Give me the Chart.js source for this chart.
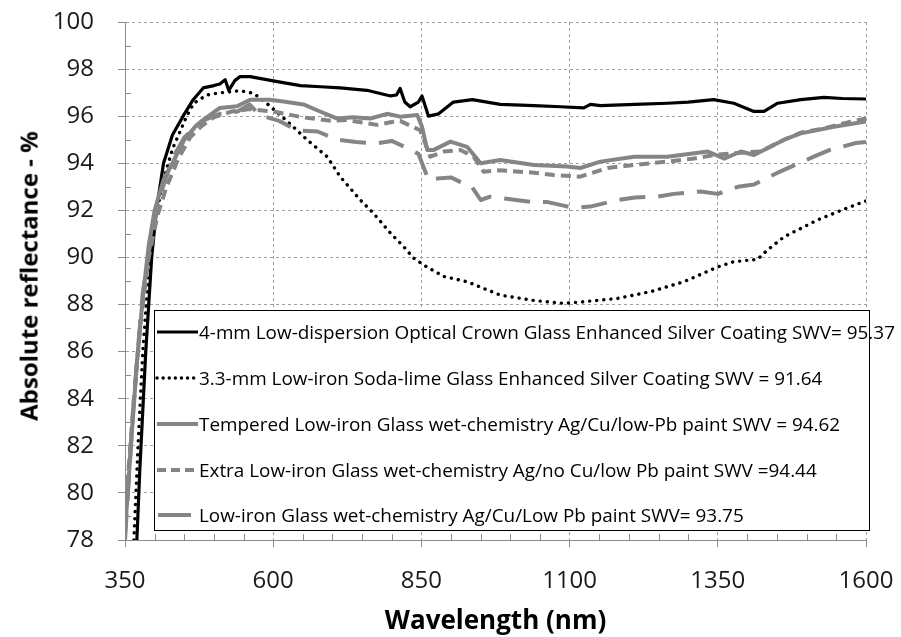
<!DOCTYPE html>
<html>
<head>
<meta charset="utf-8">
<script src="https://cdn.jsdelivr.net/npm/chart.js@4.4.1/dist/chart.umd.min.js"></script>
<style>
  html, body { margin: 0; padding: 0; background: #fff; }
  #wrap { position: relative; width: 901px; height: 637px; }
  #legend {
    position: absolute; left: 154px; top: 310px; width: 714px; height: 219px;
    background: #fff; border: 1px solid #000; box-sizing: content-box;
    font-family: "Open Sans", "Noto Sans", sans-serif; font-size: 18.9px; color: #000;
  }
  .row { position: absolute; left: 0; height: 26px; display: flex; align-items: center; white-space: nowrap; }
  .row svg { flex: none; }
  .row span { margin-left: 0; letter-spacing: 0; }
  #ytitle {
    position: absolute; left: 29px; top: 276px; white-space: nowrap;
    font-family: "Open Sans", "Noto Sans", sans-serif; font-weight: bold; font-size: 24px; line-height: 1.2; color: #000;
    transform: translate(-50%, -50%) rotate(-90deg);
  }
</style>
</head>
<body>
<div id="wrap">
  <canvas id="c" width="901" height="637"></canvas>
  <div id="ytitle"></div>
  <div id="legend"></div>
</div>
<script>
// ---------- data ----------
const xTicks = [350, 600, 850, 1100, 1350, 1600];
const yTicks = [78, 80, 82, 84, 86, 88, 90, 92, 94, 96, 98, 100];
const xTitle = "Wavelength (nm)";
const yTitle = "Absolute reflectance - %";

const seriesNames = [
  "4-mm Low-dispersion Optical Crown Glass Enhanced Silver Coating SWV= 95.37",
  "3.3-mm Low-iron Soda-lime Glass Enhanced Silver Coating SWV = 91.64",
  "Tempered Low-iron Glass wet-chemistry Ag/Cu/low-Pb paint SWV = 94.62",
  "Extra Low-iron Glass wet-chemistry Ag/no Cu/low Pb paint SWV =94.44",
  "Low-iron Glass wet-chemistry Ag/Cu/Low Pb paint SWV= 93.75"
];

const crownX = [370, 375, 381, 385, 390, 395, 403, 415, 430, 448, 465, 482, 500, 510, 519, 525, 535, 544, 561, 600, 646, 680, 713, 758, 798, 808, 814, 822, 831, 845, 851, 862, 879, 904, 936, 983, 1040, 1085, 1124, 1135, 1152, 1210, 1265, 1300, 1343, 1377, 1411, 1428, 1451, 1490, 1529, 1560, 1600];
const crownY = [78, 81, 84, 86, 88, 90, 92, 94, 95.2, 96.0, 96.7, 97.2, 97.3, 97.37, 97.55, 97.1, 97.5, 97.68, 97.68, 97.5, 97.3, 97.25, 97.2, 97.1, 96.86, 96.9, 97.18, 96.6, 96.4, 96.6, 96.86, 96.0, 96.1, 96.6, 96.7, 96.5, 96.45, 96.4, 96.35, 96.5, 96.45, 96.5, 96.55, 96.6, 96.7, 96.55, 96.2, 96.2, 96.55, 96.7, 96.8, 96.75, 96.73];

const sodaX = [365, 372, 380, 390, 400, 415, 430, 454, 466, 488, 505, 527, 544, 567, 589, 623, 657, 691, 713, 747, 769, 798, 820, 837, 859, 888, 927, 983, 1040, 1090, 1124, 1181, 1237, 1293, 1350, 1377, 1417, 1434, 1462, 1519, 1563, 1600];
const sodaY = [78, 82, 86, 89.5, 91.5, 93.3, 94.6, 96.0, 96.55, 96.9, 96.97, 97.04, 97.08, 96.97, 96.55, 95.8, 95.0, 94.28, 93.43, 92.44, 91.88, 91.03, 90.46, 89.97, 89.6, 89.19, 88.97, 88.4, 88.17, 88.05, 88.12, 88.26, 88.55, 88.97, 89.6, 89.82, 89.92, 90.32, 90.88, 91.6, 92.05, 92.4];

const temperedX = [350, 360, 370, 380, 390, 400, 415, 430, 450, 470, 482, 510, 539, 561, 595, 623, 651, 679, 708, 735, 764, 792, 814, 843, 851, 860, 870, 888, 899, 927, 950, 983, 1040, 1096, 1118, 1152, 1209, 1265, 1333, 1361, 1389, 1411, 1462, 1490, 1546, 1600];
const temperedY = [78.3, 82, 85.5, 88.3, 90.5, 92.0, 93.3, 94.0, 95.0, 95.6, 95.84, 96.35, 96.42, 96.7, 96.7, 96.6, 96.5, 96.2, 95.9, 95.95, 95.9, 96.1, 95.98, 96.05, 95.55, 94.56, 94.56, 94.78, 94.92, 94.7, 94.0, 94.14, 93.93, 93.86, 93.8, 94.07, 94.28, 94.28, 94.5, 94.2, 94.5, 94.35, 95.0, 95.27, 95.55, 95.78];

const extraX = [350, 362, 375, 390, 405, 420, 440, 460, 480, 500, 530, 560, 600, 650, 700, 724, 775, 800, 814, 848, 865, 888, 916, 938, 955, 983, 1040, 1073, 1118, 1164, 1209, 1265, 1310, 1343, 1389, 1422, 1462, 1490, 1524, 1571, 1600];
const extraY = [79, 83, 87, 90, 91.8, 93.0, 94.2, 95.1, 95.6, 95.95, 96.2, 96.3, 96.2, 95.95, 95.8, 95.84, 95.63, 95.75, 95.8, 95.4, 94.28, 94.5, 94.56, 94.28, 93.64, 93.7, 93.6, 93.5, 93.43, 93.8, 93.93, 94.07, 94.2, 94.35, 94.45, 94.5, 95.0, 95.3, 95.45, 95.75, 95.9];

const lowIronX = [350, 365, 380, 395, 410, 430, 450, 480, 510, 540, 560, 575, 590, 610, 640, 675, 708, 740, 775, 800, 826, 845, 862, 877, 900, 916, 935, 950, 966, 990, 1034, 1063, 1090, 1107, 1135, 1181, 1210, 1248, 1276, 1321, 1350, 1384, 1411, 1451, 1473, 1512, 1538, 1583, 1600];
const lowIronY = [78, 84, 88.5, 91, 92.7, 94.2, 95.1, 95.8, 96.1, 96.2, 96.5, 96.1, 95.95, 95.8, 95.4, 95.35, 95.0, 94.9, 94.85, 94.95, 94.65, 94.4, 93.3, 93.35, 93.4, 93.2, 93.0, 92.44, 92.58, 92.5, 92.36, 92.35, 92.2, 92.1, 92.16, 92.44, 92.55, 92.58, 92.7, 92.8, 92.7, 93.0, 93.1, 93.6, 93.85, 94.28, 94.56, 94.86, 94.9];

// ---------- helpers ----------
const pts = (xs, ys) => xs.map((x, i) => ({ x: x, y: ys[i] }));
const GRAY = "#858585";

const styles = [
  { color: "#000", width: 3.2, dash: [] , cap: "butt"},
  { color: "#000", width: 3.4, dash: [0.1, 7], cap: "round"},
  { color: GRAY, width: 4, dash: [], cap: "butt"},
  { color: GRAY, width: 4, dash: [10, 6], cap: "butt"},
  { color: GRAY, width: 4, dash: [26, 13], cap: "butt"}
];
const dataSets = [pts(crownX, crownY), pts(sodaX, sodaY), pts(temperedX, temperedY), pts(extraX, extraY), pts(lowIronX, lowIronY)];

// minor ticks plugin (drawn inside the plot area, like the reference)
const minorTicks = {
  id: "minorTicks",
  afterDraw(chart) {
    const { ctx, scales: { x, y } } = chart;
    ctx.save();
    ctx.strokeStyle = "#8c8c8c";
    ctx.lineWidth = 1;
    ctx.beginPath();
    for (let v = 79; v < 100; v += 2) {
      const py = Math.round(y.getPixelForValue(v)) + 0.5;
      ctx.moveTo(x.left, py); ctx.lineTo(x.left + 6, py);
    }
    for (let v = 400; v < 1600; v += 50) {
      if ((v - 350) % 250 === 0) continue;
      const px = Math.round(x.getPixelForValue(v)) + 0.5;
      ctx.moveTo(px, y.bottom); ctx.lineTo(px, y.bottom - 6);
    }
    ctx.stroke();
    ctx.restore();
  }
};

new Chart(document.getElementById("c"), {
  type: "line",
  data: {
    datasets: dataSets.map((d, i) => ({
      label: seriesNames[i],
      data: d,
      borderColor: styles[i].color,
      borderWidth: styles[i].width,
      borderDash: styles[i].dash,
      borderCapStyle: styles[i].cap,
      borderJoinStyle: "round",
      pointRadius: 0,
      tension: 0,
      fill: false
    })).reverse()
  },
  options: {
    responsive: false,
    animation: false,
    events: [],
    layout: { padding: { top: 22, right: 35, bottom: 0, left: 0 } },
    plugins: { legend: { display: false }, tooltip: { enabled: false } },
    scales: {
      x: {
        type: "linear",
        min: 350, max: 1600,
        afterFit: s => { s.height = 97; s.paddingLeft = 0; s.paddingRight = 0; },
        afterBuildTicks: s => { s.ticks = xTicks.map(v => ({ value: v })); },
        ticks: { padding: 20, color: "#1a1a1a", font: { family: "Open Sans", size: 24 }, callback: v => String(v) },
        grid: { color: "#a0a0a0", lineWidth: 1, tickLength: 7, tickColor: "#8c8c8c" },
        border: { display: true, color: "#8c8c8c", width: 1, dash: [3, 3] },
        title: { display: true, text: xTitle, color: "#000", padding: { top: 0, bottom: 0 },
                 font: { family: "Open Sans", size: 26, weight: "bold", lineHeight: 1.15 } }
      },
      y: {
        min: 78, max: 100,
        afterFit: s => { s.width = 125; s.paddingTop = 0; s.paddingBottom = 0; },
        afterBuildTicks: s => { s.ticks = yTicks.map(v => ({ value: v })); },
        ticks: { padding: 24, color: "#1a1a1a", font: { family: "Open Sans", size: 24 }, callback: v => String(v) },
        grid: { color: "#a0a0a0", lineWidth: 1, tickLength: 7, tickColor: "#8c8c8c" },
        border: { display: true, color: "#8c8c8c", width: 1, dash: [3, 3] },
        title: { display: false }
      }
    }
  },
  plugins: [minorTicks]
});

document.getElementById("ytitle").textContent = yTitle;

// ---------- HTML legend ----------
const legend = document.getElementById("legend");
const rowTops = [8, 54, 100, 146, 191];
seriesNames.forEach((name, i) => {
  const st = styles[i];
  const row = document.createElement("div");
  row.className = "row";
  row.style.top = rowTops[i] + "px";
  const svgNS = "http://www.w3.org/2000/svg";
  const svg = document.createElementNS(svgNS, "svg");
  svg.setAttribute("width", "44"); svg.setAttribute("height", "10");
  const ln = document.createElementNS(svgNS, "line");
  ln.setAttribute("x1", i === 4 ? 3 : 2); ln.setAttribute("x2", i === 4 ? 36 : 43);
  ln.setAttribute("y1", 5); ln.setAttribute("y2", 5);
  ln.setAttribute("stroke", st.color);
  ln.setAttribute("stroke-width", st.width);
  ln.setAttribute("stroke-linecap", st.cap);
  if (i === 1) ln.setAttribute("stroke-dasharray", "0.1 6");
  if (i === 3) ln.setAttribute("stroke-dasharray", "9 5");
  svg.appendChild(ln);
  const span = document.createElement("span");
  span.textContent = name;
  row.appendChild(svg); row.appendChild(span);
  legend.appendChild(row);
});
</script>
</body>
</html>
